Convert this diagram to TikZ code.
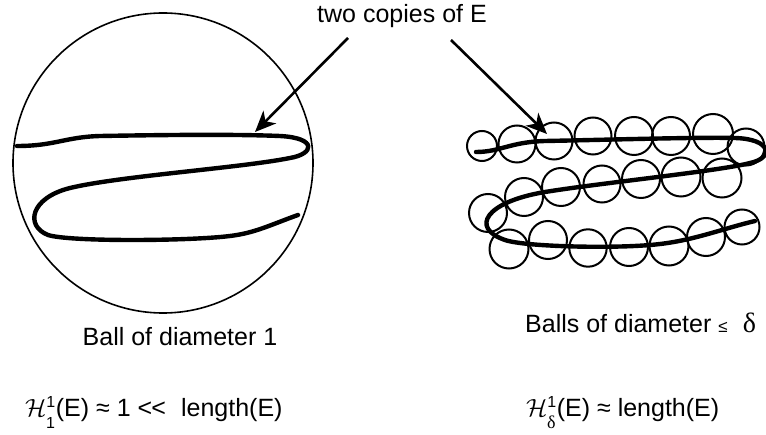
\documentclass[tikz,border=0pt]{standalone}
\usepackage{fontspec}
\setmainfont{Liberation Sans}
\newfontfamily\grkfont{Liberation Serif}
\usepackage{tikz}
\usetikzlibrary{arrows.meta}

\begin{document}
\begin{tikzpicture}[
    x=1pt, y=-1pt,
    label/.style={font=\fontsize{25}{29}\selectfont, inner sep=0pt},
    ball/.style={draw, line width=1.6pt},
    smallball/.style={draw, line width=2pt},
    setE/.style={line width=4.4pt, line cap=round, line join=round},
    pointer/.style={-{Stealth[length=21pt, width=18pt, inset=6pt]}, line width=2.6pt}
]
\useasboundingbox (0,0) rectangle (766,435);

% Big ball on the left
\draw[ball] (163,163) circle (150);

% First copy of E
\draw[setE] (17,146) .. controls (55,146) and (65,137) .. (100,136)
    .. controls (160,135) and (230,134) .. (280,136)
    .. controls (318,138) and (314,154) .. (290,158)
    .. controls (240,168) and (120,176) .. (70,188)
    .. controls (30,198) and (25,226) .. (48,235)
    .. controls (70,242) and (190,241) .. (230,236)
    .. controls (255,233) and (270,225) .. (298,215);

% Second copy of E
\draw[setE] (476,152) .. controls (500,152) and (510,142) .. (545,141)
    .. controls (600,140) and (700,137) .. (735,138)
    .. controls (772,139) and (774,158) .. (750,163)
    .. controls (720,171) and (600,183) .. (545,192)
    .. controls (485,202) and (470,228) .. (505,240)
    .. controls (525,247) and (620,249) .. (660,244)
    .. controls (695,240) and (725,228) .. (755,221);

% Small balls, top row
\draw[smallball] (482,146) circle (15);
\draw[smallball] (517,144) circle (18.5);
\draw[smallball] (554,141) circle (18.5);
\draw[smallball] (593,136) circle (18.5);
\draw[smallball] (634,136) circle (19);
\draw[smallball] (671,136) circle (19);
\draw[smallball] (713,134) circle (20);
\draw[smallball] (746,147) circle (18.5);

% Small balls, middle row
\draw[smallball] (488,213) circle (19);
\draw[smallball] (524,197) circle (19);
\draw[smallball] (561,187) circle (19);
\draw[smallball] (602,184) circle (18.5);
\draw[smallball] (641,179) circle (19);
\draw[smallball] (681,177) circle (19.5);
\draw[smallball] (722,178) circle (19.5);

% Small balls, bottom row
\draw[smallball] (509,249) circle (19.5);
\draw[smallball] (548,240) circle (19);
\draw[smallball] (588,248) circle (18.7);
\draw[smallball] (629,247) circle (19);
\draw[smallball] (669,246) circle (19.5);
\draw[smallball] (706,237) circle (19);
\draw[smallball] (742,227) circle (17.5);

% Title and pointers
\node[label, anchor=base] (copies) at (402,23) {two copies of E};
\coordinate (tailL) at (348,38);
\coordinate (tipL) at (255,132);
\coordinate (tailR) at (451,40);
\coordinate (tipR) at (547,134);
\draw[pointer] (tailL) -- (tipL);
\draw[pointer] (tailR) -- (tipR);

% Captions
\node[label, anchor=base] (bigcap) at (180,346) {Ball of diameter 1};
\node[label, anchor=base west] (smallcap) at (525,333)
    {Balls of diameter {\fontsize{17}{17}\selectfont ≤}\,\, {\grkfont\fontsize{28}{28}\selectfont δ}};

% Formulas
\node[label, anchor=base west] (formL) at (25,417)
    {$\mathcal{H}^{\mbox{\fontsize{16}{16}\selectfont 1}}_{\raisebox{-5pt}{\fontsize{16}{16}\selectfont 1}}$(E) ≈ 1 <\kern-1pt<\,\, length(E)};
\node[label, anchor=base west] (formR) at (526,417)
    {$\mathcal{H}^{\mbox{\fontsize{16}{16}\selectfont 1}}_{\raisebox{-5pt}{\grkfont\fontsize{18}{18}\selectfont δ}}$(E) ≈ length(E)};
\end{tikzpicture}
\end{document}
